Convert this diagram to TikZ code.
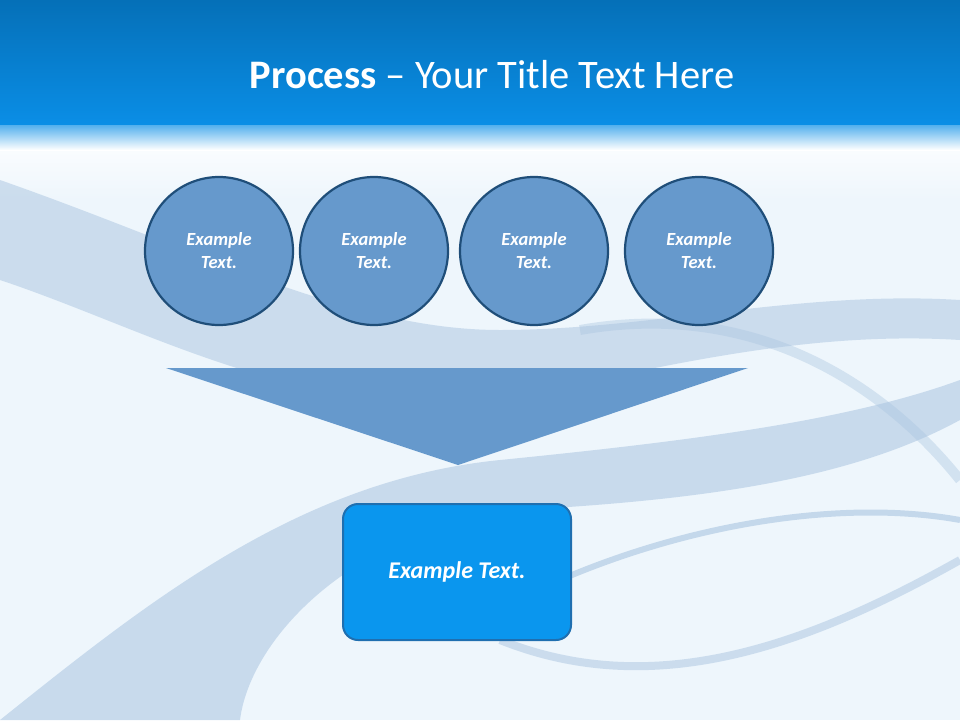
\documentclass[tikz,border=0pt]{standalone}
\usepackage{fontspec}
\setmainfont{Carlito}
\usetikzlibrary{shapes.geometric}
\definecolor{circ}{HTML}{6699CC}
\definecolor{circb}{HTML}{1F4E79}
\definecolor{boxf}{HTML}{0A96EE}
\definecolor{boxb}{HTML}{1F6FB0}
\definecolor{bgl}{HTML}{EEF6FC}
\definecolor{topd}{HTML}{0570B8}
\definecolor{topl}{HTML}{0A8EE6}
\definecolor{wave}{HTML}{A9C4E0}
\tikzset{x=1pt,y=-1pt,
 stepcirc/.style={circle,minimum size=148pt,fill=circ,draw=circb,line width=2.2pt,text=white,font=\bfseries\itshape\fontsize{18.5}{23}\selectfont,align=center},
 resbox/.style={rounded corners=15pt,minimum width=228pt,minimum height=136pt,fill=boxf,draw=boxb,line width=2pt,text=white,font=\bfseries\itshape\fontsize{24}{28}\selectfont}}
\begin{document}
\begin{tikzpicture}
\useasboundingbox (0,0) rectangle (960,720);
\fill[bgl] (0,0) rectangle (960,720);
\shade[top color=white,bottom color=bgl] (0,125) rectangle (960,200);
% waves
\fill[wave,opacity=0.5] (0,180) .. controls (200,250) and (350,330) .. (500,330) .. controls (650,330) and (800,290) .. (960,300) -- (960,340) .. controls (800,330) and (650,370) .. (500,400) .. controls (300,420) and (150,330) .. (0,280) -- cycle;
\fill[wave,opacity=0.55] (0,720) .. controls (150,600) and (300,480) .. (500,460) .. controls (700,440) and (850,420) .. (960,380) -- (960,420) .. controls (850,480) and (700,500) .. (520,510) .. controls (350,530) and (250,640) .. (240,720) -- cycle;
\draw[wave,line width=6pt,opacity=0.6] (560,580) .. controls (700,520) and (850,500) .. (960,520);
\draw[wave,line width=8pt,opacity=0.5] (500,640) .. controls (650,700) and (800,650) .. (960,560);
\draw[wave,line width=10pt,opacity=0.4] (580,330) .. controls (750,300) and (880,380) .. (960,480);
% title bar
\shade[top color=topd,bottom color=topl] (0,0) rectangle (960,125);
\shade[top color=topl!70!white,bottom color=white] (0,125) rectangle (960,150);
\node[text=white,font=\fontsize{40.5}{44}\selectfont] (title) at (492,75) {\textbf{Process} – Your Title Text Here};
% circles
\node[stepcirc] (c1) at (219,251) {Example\\Text.};
\node[stepcirc] (c2) at (374,251) {Example\\Text.};
\node[stepcirc] (c3) at (534,251) {Example\\Text.};
\node[stepcirc] (c4) at (699,251) {Example\\Text.};
% funnel
\fill[circ] (166,368) -- (748,368) -- (458,465) -- cycle;
\node[resbox] (res) at (457,572) {Example Text.};
\end{tikzpicture}
\end{document}
